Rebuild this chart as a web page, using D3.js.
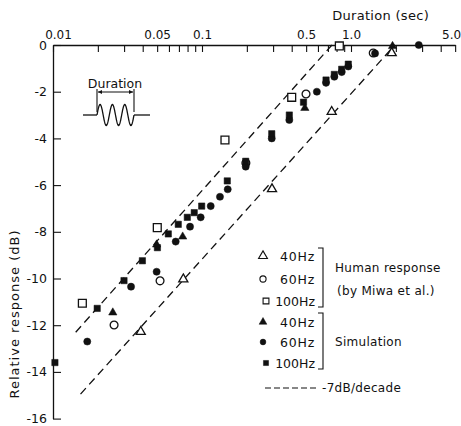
<!DOCTYPE html>
<html><head><meta charset="utf-8">
<script src="https://cdn.jsdelivr.net/npm/d3@7"></script>
<style>
html,body{margin:0;padding:0;background:#fff;}
svg{display:block;font-family:"DejaVu Sans",sans-serif;}
</style></head><body>
<svg id="chart" width="461" height="426"></svg>
<script>
// ---- data (duration in s, relative response in dB) ----
const durTickValues = [0.01,0.02,0.03,0.04,0.05,0.06,0.07,0.08,0.09,0.1,0.2,0.3,0.4,0.5,0.6,0.7,0.8,0.9,1,2,3,4,5];
const durLabelValues = [0.01,0.05,0.1,0.5,1,5];
const durLabels = ["0.01","0.05","0.1","0.5","1.0","5.0"];
const dbTickValues = [0,-2,-4,-6,-8,-10,-12,-14,-16];
const dbLabels = ["0","-2","-4","-6","-8","-10","-12","-14","-16"];

const human40 = [[0.0388,-12.28],[0.0749,-10.03],[0.295,-6.17],[0.742,-2.86],[1.875,-0.34]];
const human60 = [[0.0257,-11.99],[0.0523,-10.1],[0.197,-5.05],[0.499,-2.1],[1.41,-0.34]];
const human100 = [[0.01574,-11.06],[0.0501,-7.82],[0.1426,-4.07],[0.400,-2.24],[0.835,-0.04]];

const sim40 = [[0.0252,-11.46],[0.0496,-8.55],[0.0742,-8.21],[0.49,-2.7],[1.9,-0.05]];
const sim60 = [[0.01698,-12.7],[0.0334,-10.35],[0.0496,-9.71],[0.0666,-8.42],[0.0831,-7.78],[0.098,-7.38],
  [0.1144,-6.9],[0.132,-6.5],[0.1488,-6.18],[0.1965,-5.21],[0.2938,-4.0],[0.3855,-3.21],[0.59,-2.0],
  [0.68,-1.62],[0.773,-1.36],[0.866,-1.16],[0.959,-0.92],[1.45,-0.36],[2.85,0]];
const sim100 = [[0.0103,-13.6],[0.0198,-11.28],[0.02996,-10.09],[0.0398,-9.24],[0.0502,-8.68],[0.0594,-8.09],
  [0.0693,-7.68],[0.0797,-7.38],[0.0887,-7.18],[0.0995,-6.9],[0.1478,-5.82],[0.1965,-4.98],[0.2938,-3.8],
  [0.3855,-3.0],[0.48,-2.45],[0.68,-1.5],[0.773,-1.26],[0.866,-1.04],[0.959,-0.82]];

const upperLine = [[0.0142,-12.3],[0.745,0]];
const lowerLine = [[0.0153,-14.95],[1.97,0]];

const legendHuman = ["40Hz","60Hz","100Hz"];
const legendSim = ["40Hz","60Hz","100Hz"];

// ---- drawing ----
const svg = d3.select("#chart");
const x = d3.scaleLog().domain([0.01,5]).range([53, 53 + 149*Math.log10(500)]);
const y = d3.scaleLinear().domain([0,-16]).range([45, 418.6]);

const ink = "#111";

// top axis
const topAxis = d3.axisTop(x).tickValues(durTickValues)
  .tickSizeInner(-7).tickSizeOuter(0).tickPadding(6)
  .tickFormat(d => { const i = durLabelValues.findIndex(v => Math.abs(v-d) < 1e-9); return i >= 0 ? durLabels[i] : ""; });
const gTop = svg.append("g").attr("transform","translate(0,45)").call(topAxis);
gTop.attr("font-family",null);
gTop.selectAll("path.domain").attr("stroke",ink).attr("stroke-width",1.3);
gTop.selectAll(".tick line").attr("stroke",ink).attr("stroke-width",1.1);
gTop.selectAll(".tick text").attr("font-size",12).attr("fill",ink)
  .attr("dx", d => d === 0.01 ? 5 : (d === 5 ? -4 : 0));

// left axis
const leftAxis = d3.axisLeft(y).tickValues(dbTickValues)
  .tickSizeInner(-8).tickSizeOuter(0).tickPadding(6)
  .tickFormat((d,i) => dbLabels[i]);
const gLeft = svg.append("g").attr("transform","translate(53,0)").call(leftAxis);
gLeft.attr("font-family",null);
gLeft.selectAll("path.domain").attr("stroke",ink).attr("stroke-width",1.3);
gLeft.selectAll(".tick line").attr("stroke",ink).attr("stroke-width",1.1);
gLeft.selectAll(".tick text").attr("font-size",12.5).attr("fill",ink);

// axis titles
svg.append("text").attr("x",429).attr("y",20).attr("text-anchor","end")
  .attr("font-size",13).attr("letter-spacing",0.3).attr("fill",ink).text("Duration (sec)");
svg.append("text").attr("transform","translate(19,314) rotate(-90)").attr("text-anchor","middle")
  .attr("font-size",13).attr("letter-spacing",1).attr("fill",ink).text("Relative response (dB)");

// dashed -7dB/decade lines
const line = d3.line().x(d => x(d[0])).y(d => y(d[1]));
[upperLine, lowerLine].forEach(l => {
  svg.append("path").attr("d", line(l)).attr("fill","none").attr("stroke",ink)
    .attr("stroke-width",1.3).attr("stroke-dasharray","8,5");
});

// symbols
const sym = {
  openTri: d3.symbol(d3.symbolTriangle, 36),
  openCir: d3.symbol(d3.symbolCircle, 48),
  openSq: d3.symbol(d3.symbolSquare, 62),
  fillTri: d3.symbol(d3.symbolTriangle, 30),
  fillCir: d3.symbol(d3.symbolCircle, 40),
  fillSq: d3.symbol(d3.symbolSquare, 40)
};
function plot(data, s, filled){
  svg.append("g").selectAll("path").data(data).join("path")
    .attr("transform", d => `translate(${x(d[0])},${y(d[1])})`)
    .attr("d", sym[s]())
    .attr("fill", filled ? ink : "#fff")
    .attr("stroke", ink).attr("stroke-width", filled ? 0.5 : 1.3);
}
plot(human60,"openCir",false);
plot(human100,"openSq",false);
plot(human40,"openTri",false);
plot(sim60,"fillCir",true);
plot(sim100,"fillSq",true);
plot(sim40,"fillTri",true);

// inset illustration
const inset = svg.append("g");
inset.append("text").attr("x",115).attr("y",88).attr("text-anchor","middle")
  .attr("font-size",12.5).attr("fill",ink).text("Duration");
inset.append("line").attr("x1",97).attr("x2",97).attr("y1",89).attr("y2",112).attr("stroke",ink).attr("stroke-width",1.1);
inset.append("line").attr("x1",134).attr("x2",134).attr("y1",89).attr("y2",112).attr("stroke",ink).attr("stroke-width",1.1);
inset.append("line").attr("x1",98).attr("x2",133).attr("y1",92).attr("y2",92).attr("stroke",ink).attr("stroke-width",1.1);
inset.append("path").attr("d","M98,92 l4,-2 v4 z M133,92 l-4,-2 v4 z").attr("fill",ink);
const wave = [];
for (let i = 0; i <= 120; i++) {
  const t = i/120;
  wave.push([97 + 37*t, 115 - 10.5*Math.sin(2*Math.PI*3*t)]);
}
inset.append("path").attr("d","M83,115 H97").attr("stroke",ink).attr("stroke-width",1.3).attr("fill","none");
inset.append("path").attr("d",d3.line()(wave)).attr("stroke",ink).attr("stroke-width",1.3).attr("fill","none");
inset.append("path").attr("d","M134,115 H150").attr("stroke",ink).attr("stroke-width",1.3).attr("fill","none");

// legend
const lg = svg.append("g").attr("font-size",12).attr("fill",ink);
const rowY = [256,279,301,322,342,363];
const labs = legendHuman.concat(legendSim);
const legendTypes = [d3.symbolTriangle,d3.symbolCircle,d3.symbolSquare];
labs.forEach((t,i) => {
  const filled = i >= 3;
  const k = i % 3;
  const sx = k === 2 ? 266 : 263;
  const size = filled ? [26,26,26][k] : [34,30,34][k];
  lg.append("path").attr("transform",`translate(${sx},${rowY[i]})`)
    .attr("d", d3.symbol(legendTypes[k], size)())
    .attr("fill", filled ? ink : "#fff").attr("stroke",ink).attr("stroke-width", filled ? 0.5 : 1.1);
  lg.append("text").attr("x", 315).attr("y", rowY[i]+4.5).attr("text-anchor","end")
    .attr("font-size",12.5).attr("letter-spacing", k === 2 ? 0 : 0.8).text(t);
});
// brackets
function bracket(y1,y2){
  lg.append("path").attr("d",`M318,${y1} H323 V${y2} H318`).attr("fill","none").attr("stroke",ink).attr("stroke-width",1.1);
}
bracket(248,307);
bracket(313,369);
lg.append("text").attr("x",335).attr("y",272).attr("letter-spacing",0.3).text("Human response");
lg.append("text").attr("x",337).attr("y",295).attr("letter-spacing",0.3).text("(by Miwa et al.)");
lg.append("text").attr("x",335).attr("y",346).attr("letter-spacing",0.3).text("Simulation");
lg.append("path").attr("d","M265,388 H316").attr("stroke",ink).attr("stroke-width",1.2).attr("stroke-dasharray","6,3");
lg.append("text").attr("x",322).attr("y",392).attr("letter-spacing",0.3).text("-7dB/decade");
</script>
</body></html>
